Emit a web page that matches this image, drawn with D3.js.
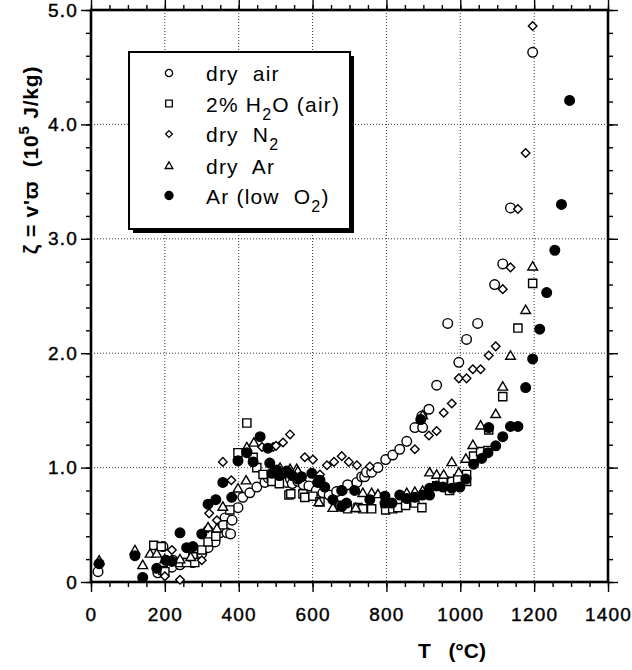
<!DOCTYPE html>
<html>
<head>
<meta charset="utf-8">
<script src="https://cdn.jsdelivr.net/npm/d3@7"></script>
<style>
  body { margin: 0; background: #fff; }
  text { font-family: "Liberation Sans", Arial, sans-serif; fill: #000; }
</style>
</head>
<body>
<svg id="vis" width="632" height="670"></svg>
<script>
// [T (°C), zeta (1e5 J/kg)]
const dry_air = [[19,0.09],[181,0.08],[195,0.31],[219,0.13],[222,0.19],[241,0.15],[276,0.17],[300,0.25],[317,0.30],[336,0.35],[349,0.43],[368,0.43],[378,0.42],[363,0.56],[382,0.54],[398,0.65],[411,0.74],[430,0.78],[449,0.83],[471,0.87],[480,0.91],[490,0.89],[500,0.90],[511,0.87],[520,0.92],[530,0.87],[540,0.90],[545,0.86],[560,0.88],[575,0.85],[590,0.84],[610,0.80],[628,0.78],[645,0.76],[665,0.79],[680,0.80],[695,0.85],[720,0.87],[733,0.92],[741,0.92],[746,0.96],[760,0.96],[777,1.00],[798,1.07],[817,1.11],[836,1.16],[855,1.23],[877,1.35],[898,1.35],[896,1.45],[915,1.51],[936,1.72],[966,2.26],[996,1.92],[1017,2.12],[1047,2.26],[1093,2.60],[1115,2.78],[1136,3.27],[1196,4.63]];
const h2o_air = [[170,0.32],[190,0.31],[195,0.10],[200,0.09],[241,0.17],[259,0.17],[276,0.22],[281,0.17],[300,0.28],[317,0.35],[338,0.40],[357,0.50],[376,0.63],[398,1.13],[422,1.39],[439,1.09],[449,1.00],[466,0.94],[490,0.88],[510,0.86],[536,0.76],[541,0.77],[574,0.77],[579,0.74],[601,0.75],[620,0.70],[674,0.67],[695,0.64],[723,0.65],[736,0.64],[760,0.64],[798,0.63],[817,0.64],[831,0.65],[852,0.67],[877,0.69],[896,0.65],[936,0.84],[953,0.87],[971,0.80],[977,0.88],[993,0.90],[1017,0.88],[1017,0.94],[1036,1.10],[1055,1.14],[1075,1.15],[1077,1.33],[1115,1.62],[1156,2.22],[1196,2.61]];
const dry_n2 = [[200,0.05],[241,0.02],[219,0.28],[300,0.19],[317,0.47],[320,0.60],[341,0.54],[357,1.05],[380,0.89],[463,1.18],[493,1.18],[501,1.19],[520,1.22],[539,1.29],[579,1.09],[601,1.07],[620,0.94],[639,1.02],[658,1.05],[679,1.10],[698,1.05],[720,1.02],[755,1.01],[877,1.16],[915,1.28],[936,1.32],[955,1.48],[977,1.56],[996,1.78],[1017,1.78],[1034,1.86],[1055,1.86],[1077,1.98],[1096,2.06],[1115,2.56],[1136,2.75],[1156,3.26],[1177,3.75],[1196,4.86]];
const dry_ar = [[22,0.19],[119,0.28],[140,0.15],[160,0.25],[178,0.25],[200,0.20],[241,0.20],[270,0.22],[317,0.48],[341,0.47],[357,0.66],[398,0.82],[420,0.89],[422,1.18],[441,1.22],[512,1.00],[539,0.99],[557,0.99],[560,0.97],[617,0.70],[655,0.65],[717,0.65],[736,0.78],[760,0.78],[777,0.77],[798,0.69],[855,0.78],[877,0.79],[898,0.80],[898,1.46],[917,0.96],[936,0.94],[955,0.94],[977,1.05],[996,0.96],[1015,1.08],[1034,1.20],[1055,1.37],[1096,1.47],[1115,1.71],[1136,1.98],[1177,2.38],[1196,2.76]];
const ar_low_o2 = [[22,0.16],[119,0.23],[140,0.04],[178,0.12],[203,0.19],[219,0.18],[241,0.43],[259,0.30],[276,0.31],[300,0.42],[317,0.68],[338,0.72],[357,0.87],[381,0.74],[398,1.06],[422,1.13],[439,1.05],[458,1.27],[479,1.17],[484,1.04],[490,0.95],[503,0.98],[510,0.93],[520,0.95],[530,0.97],[545,0.93],[560,0.90],[570,0.92],[598,0.95],[614,0.87],[620,0.89],[633,0.83],[655,0.72],[679,0.80],[679,0.66],[692,0.69],[714,0.80],[755,0.72],[796,0.75],[796,0.69],[815,0.69],[836,0.76],[855,0.73],[877,0.74],[893,1.42],[898,0.76],[917,0.76],[917,0.82],[936,0.84],[953,0.83],[977,0.82],[999,0.83],[1015,0.90],[1036,1.03],[1058,1.08],[1075,1.13],[1077,1.35],[1096,1.19],[1115,1.27],[1136,1.36],[1156,1.36],[1177,1.70],[1196,1.95],[1215,2.21],[1234,2.53],[1256,2.90],[1274,3.30],[1296,4.21]];

const x_ticks = [0,200,400,600,800,1000,1200,1400];
const y_ticks = [0,1,2,3,4,5];
const y_tick_labels = ["0","1.0","2.0","3.0","4.0","5.0"];

// marker paths, s = half size
const shapes = {
    circle: s => `M${s},0A${s},${s} 0 1,1 ${-s},0A${s},${s} 0 1,1 ${s},0Z`,
    square: s => `M${-s},${-s}h${2*s}v${2*s}h${-2*s}Z`,
    diamond: s => `M0,${-s}L${s},0L0,${s}L${-s},0Z`,
    triangle: s => `M0,${-s*1.05}L${s*1.1},${s*0.85}L${-s*1.1},${s*0.85}Z`
};

const series = [
    {data: dry_air,   shape: "circle",   size: 4.8, fill: "#fff", leg: 3.6},
    {data: h2o_air,   shape: "square",   size: 4.1, fill: "#fff", leg: 3.3},
    {data: dry_n2,    shape: "diamond",  size: 4.3, fill: "#fff", leg: 3.4},
    {data: dry_ar,    shape: "triangle", size: 4.4, fill: "#fff", leg: 3.5},
    {data: ar_low_o2, shape: "circle",   size: 4.8, fill: "#000", leg: 4.0}
];

const vis = d3.select("#vis");
const x = d3.scaleLinear().domain([0,1400]).range([91,608]);
const y = d3.scaleLinear().domain([0,5]).range([582,10]);

// grid
vis.append("g").selectAll("line").data(x_ticks.slice(1,-1)).join("line")
    .attr("x1", d=>x(d)).attr("x2", d=>x(d)).attr("y1", y(5)).attr("y2", y(0))
    .attr("stroke", "#222").attr("stroke-width", 0.9).attr("stroke-dasharray", "1,2");
vis.append("g").selectAll("line").data(y_ticks.slice(1,-1)).join("line")
    .attr("x1", x(0)).attr("x2", x(1400)).attr("y1", d=>y(d)).attr("y2", d=>y(d))
    .attr("stroke", "#222").attr("stroke-width", 0.9).attr("stroke-dasharray", "1,2");

// axes
const xMinor = d3.range(0, 1401, 50);
const yMinor = d3.range(0, 5.01, 0.2);
vis.append("g").attr("transform", `translate(0,${y(0)})`)
    .call(d3.axisBottom(x).tickValues(xMinor).tickSize(5).tickFormat(""));
vis.append("g").attr("transform", `translate(0,${y(0)})`)
    .call(d3.axisBottom(x).tickValues(x_ticks).tickSize(10).tickPadding(16).tickFormat(d3.format("d")));
vis.append("g").attr("transform", `translate(0,${y(5)})`)
    .call(d3.axisTop(x).tickValues(xMinor).tickSize(5).tickFormat(""));
vis.append("g").attr("transform", `translate(0,${y(5)})`)
    .call(d3.axisTop(x).tickValues(x_ticks).tickSize(10).tickFormat(""));
vis.append("g").attr("transform", `translate(${x(0)},0)`)
    .call(d3.axisLeft(y).tickValues(yMinor).tickSize(5).tickFormat(""));
vis.append("g").attr("transform", `translate(${x(0)},0)`)
    .call(d3.axisLeft(y).tickValues(y_ticks).tickSize(10).tickPadding(3).tickFormat((d,i)=>y_tick_labels[i]));
vis.append("g").attr("transform", `translate(${x(1400)},0)`)
    .call(d3.axisRight(y).tickValues(yMinor).tickSize(5).tickFormat(""));
vis.append("g").attr("transform", `translate(${x(1400)},0)`)
    .call(d3.axisRight(y).tickValues(y_ticks).tickSize(10).tickFormat(""));

vis.selectAll(".domain").remove();
vis.selectAll(".tick line").attr("stroke", "#000").attr("stroke-width", 1.4);
vis.selectAll(".tick text").attr("font-size", 19).attr("fill", "#000")
    .attr("letter-spacing", 1.2).attr("stroke", "#000").attr("stroke-width", 0.4)
    .style("font-family", "'Liberation Sans', Arial, sans-serif");

// frame
vis.append("rect").attr("x", x(0)).attr("y", y(5))
    .attr("width", x(1400)-x(0)).attr("height", y(0)-y(5))
    .attr("fill", "none").attr("stroke", "#000").attr("stroke-width", 2.6);

// points
series.forEach(s => {
    vis.append("g").selectAll("path").data(s.data).join("path")
        .attr("transform", d => `translate(${x(d[0])},${y(d[1])})`)
        .attr("d", shapes[s.shape](s.size))
        .attr("fill", s.fill).attr("stroke", "#000").attr("stroke-width", 1.4);
});

// legend
const leg = vis.append("g");
leg.append("rect").attr("x", 133).attr("y", 56).attr("width", 221).attr("height", 177).attr("fill", "#000");
leg.append("rect").attr("x", 129).attr("y", 52).attr("width", 221).attr("height", 177)
    .attr("fill", "#fff").attr("stroke", "#000").attr("stroke-width", 2);
const rows = [73, 103.5, 134, 165.5, 195.5];
series.forEach((s,i) => {
    leg.append("path").attr("transform", `translate(169,${rows[i]})`)
        .attr("d", shapes[s.shape](s.leg))
        .attr("fill", s.fill).attr("stroke", "#000").attr("stroke-width", 1.3);
});
const legText = [
    [["dry  air", 0]],
    [["2% H", 0], ["2", 1], ["O (air)", 0]],
    [["dry  N", 0], ["2", 1]],
    [["dry  Ar", 0]],
    [["Ar (low  O", 0], ["2", 1], [")", 0]]
];
legText.forEach((parts, i) => {
    const t = leg.append("text").attr("x", 206).attr("y", rows[i] + 8)
        .attr("font-size", 21).attr("letter-spacing", 1.2).style("white-space", "pre");
    let sub = false;
    parts.forEach(p => {
        const dy = p[1] ? 8 : (sub ? -8 : 0);
        t.append("tspan").text(p[0]).attr("font-size", p[1] ? 16 : 21).attr("dy", dy);
        sub = !!p[1];
    });
});

// axis titles
vis.append("text").attr("transform", "translate(38,160) rotate(-90)")
    .attr("text-anchor", "middle").attr("font-size", 21).attr("font-weight", "bold")
    .attr("letter-spacing", 0.8).style("white-space", "pre")
    .call(t => {
        t.append("tspan").text("ζ = v'ϖ  (10");
        t.append("tspan").attr("font-size", 15).attr("dy", -9).text("5");
        t.append("tspan").attr("dy", 9).text(" J/kg)");
    });
vis.append("text").attr("x", 452).attr("y", 658).attr("text-anchor", "middle")
    .attr("font-size", 21).attr("font-weight", "bold").style("white-space", "pre")
    .text("T   (°C)");
</script>
</body>
</html>
